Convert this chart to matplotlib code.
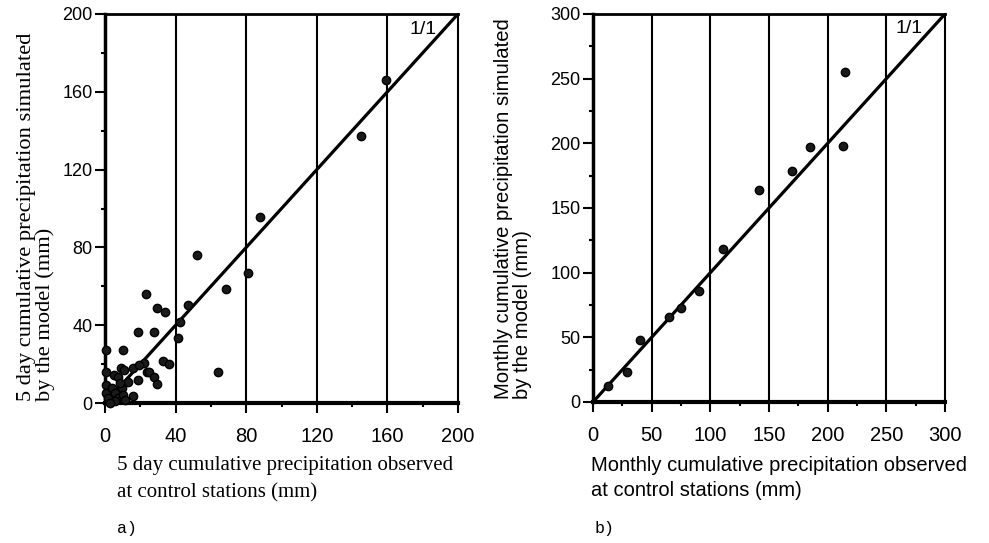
import matplotlib.pyplot as plt
from matplotlib.ticker import MultipleLocator

# a) 5 day cumulative precipitation (mm)
obs_5day = [159.4, 145.3, 88.1, 80.8, 68.5, 51.9, 63.8, 47.2, 42.5, 41.5,
            23.2, 29.2, 34.2, 18.5, 27.9, 33.0, 36.4, 22.1, 23.6, 25.1,
            27.9, 29.2, 18.5, 16.0, 10.0, 0.6, 0.6, 5.3, 7.5, 9.0,
            11.0, 16.0, 19.4, 12.8, 0.6, 0.6, 1.9, 3.8, 5.7, 7.5,
            9.4, 10.4, 11.3, 5.7, 2.8, 8.5]
sim_5day = [166.0, 137.3, 95.4, 66.8, 58.6, 76.2, 15.8, 50.2, 41.4, 33.4,
            56.0, 48.8, 46.6, 36.5, 36.5, 21.4, 20.2, 20.5, 15.9, 15.8,
            13.4, 9.8, 12.0, 3.8, 27.4, 27.4, 15.8, 14.2, 13.4, 18.0,
            17.1, 18.0, 19.3, 10.6, 9.4, 5.1, 2.6, 7.7, 5.1, 2.6,
            7.7, 4.3, 1.7, 0.9, 0.0, 10.3]

# b) monthly cumulative precipitation (mm)
obs_month = [12.5, 29.0, 39.7, 64.7, 75.2, 90.0, 110.7, 141.9, 170.0, 184.8, 213.2, 214.6]
sim_month = [12.4, 23.5, 48.2, 65.8, 73.0, 85.6, 118.4, 163.8, 178.5, 197.0, 198.3, 255.0]

line_5day = [0, 200]
line_month = [0, 300]
ticks_5day = [0, 40, 80, 120, 160, 200]
ticks_month = [0, 50, 100, 150, 200, 250, 300]

sans = ['Liberation Sans', 'DejaVu Sans']
serif = ['Liberation Serif', 'DejaVu Serif']
mono = ['Liberation Mono', 'DejaVu Sans Mono']

fig = plt.figure(figsize=(9.89, 5.43), dpi=100)
ax1 = fig.add_axes([105 / 989, 1 - 403 / 543, 353 / 989, 389 / 543])
ax2 = fig.add_axes([593 / 989, 1 - 402 / 543, 352 / 989, 388 / 543])


def setup(ax, ticks, minor, lim, obs, sim, diag, lbl_xy):
    ax.set_xlim(0, lim)
    ax.set_ylim(0, lim)
    for t in ticks[1:-1]:
        ax.axvline(t, color='black', lw=1.5, zorder=1)
    ax.plot(diag, diag, color='black', lw=2.3, zorder=2)
    ax.scatter(obs, sim, s=36, facecolor='#1a1a1a', edgecolor='black',
               linewidths=1.0, zorder=3, clip_on=False)
    ax.text(lbl_xy[0], lbl_xy[1], '1/1', ha='center', va='center',
            fontsize=14, family=sans)
    ax.set_xticks(ticks)
    ax.set_yticks(ticks)
    ax.xaxis.set_minor_locator(MultipleLocator(minor))
    ax.yaxis.set_minor_locator(MultipleLocator(minor))
    ax.tick_params(which='major', direction='out', length=7, width=1.5)
    ax.tick_params(which='minor', direction='out', length=3, width=1.5)
    ax.tick_params(axis='x', pad=10)
    ax.tick_params(axis='y', pad=2)
    for lab in ax.get_xticklabels():
        lab.set_family(sans)
        lab.set_fontsize(14.5)
    for lab in ax.get_yticklabels():
        lab.set_family(sans)
        lab.set_fontsize(13)
    ax.spines['left'].set_linewidth(2.5)
    ax.spines['bottom'].set_linewidth(3)
    ax.spines['top'].set_linewidth(2)
    ax.spines['right'].set_linewidth(1.5)


setup(ax1, ticks_5day, 20, 200, obs_5day, sim_5day, line_5day, (180, 192))
setup(ax2, ticks_month, 25, 300, obs_month, sim_month, line_month, (269, 289))

fig.text(36 / 989, 1 - 401 / 543,
         '5 day cumulative precipitation simulated\nby the model (mm)',
         rotation=90, ha='center', va='bottom', multialignment='left',
         fontsize=16.2, family=serif, linespacing=1.0)
fig.text(513 / 989, 1 - 399 / 543,
         'Monthly cumulative precipitation simulated\nby the model (mm)',
         rotation=90, ha='center', va='bottom', multialignment='left',
         fontsize=14.6, family=sans, linespacing=1.0)

fig.text(117 / 989, 1 - 456 / 543,
         '5 day cumulative precipitation observed\nat control stations (mm)',
         ha='left', va='top', fontsize=15, family=serif, linespacing=1.55)
fig.text(591 / 989, 1 - 456 / 543,
         'Monthly cumulative precipitation observed\nat control stations (mm)',
         ha='left', va='top', fontsize=14.5, family=sans, linespacing=1.4)

fig.text(117 / 989, 1 - 529 / 543, 'a)', ha='left', va='center',
         fontsize=12, family=mono)
fig.text(595 / 989, 1 - 529 / 543, 'b)', ha='left', va='center',
         fontsize=12, family=mono)

fig.savefig('out.png', dpi=100)
